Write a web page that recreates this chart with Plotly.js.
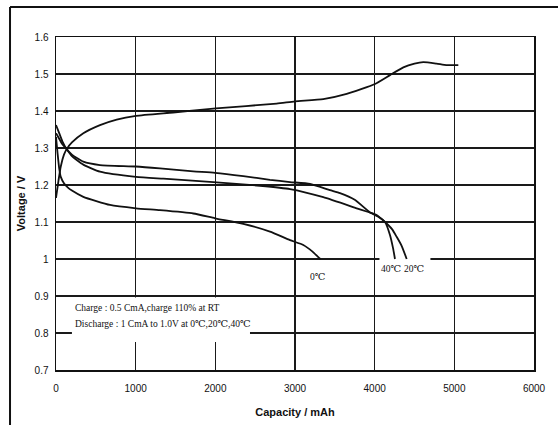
<!DOCTYPE html>
<html>
<head>
<meta charset="utf-8">
<script src="https://cdn.plot.ly/plotly-3.0.1.min.js"></script>
<style>html,body{margin:0;padding:0;background:#fff;}#chart{width:558px;height:425px;}</style>
</head>
<body>
<div id="chart"></div>
<script>
// Charge curve (0.5 CmA, 110%, RT)
const chargeX = [0, 30, 60, 100, 134, 200, 343, 552, 762, 1004, 1470, 2008, 2770, 3000, 3355, 3649, 4004, 4192, 4360, 4500, 4610, 4778, 4900, 5050];
const chargeY = [1.165, 1.21, 1.25, 1.282, 1.297, 1.315, 1.34, 1.362, 1.377, 1.387, 1.396, 1.407, 1.42, 1.426, 1.432, 1.446, 1.473, 1.497, 1.518, 1.528, 1.532, 1.528, 1.524, 1.524];
// Discharge 40°C
const d40X = [0, 40, 80, 134, 200, 343, 552, 1004, 1305, 1724, 1996, 2351, 2686, 2937, 3188, 3439, 3565, 3750, 3941, 4040, 4130, 4192, 4230, 4255];
const d40Y = [1.362, 1.34, 1.318, 1.297, 1.282, 1.263, 1.254, 1.25, 1.245, 1.237, 1.233, 1.224, 1.214, 1.208, 1.203, 1.186, 1.178, 1.16, 1.126, 1.115, 1.10, 1.065, 1.03, 1.0];
// Discharge 20°C
const d20X = [0, 40, 80, 134, 200, 343, 552, 1004, 1347, 1975, 2560, 2937, 3355, 3774, 4025, 4130, 4220, 4276, 4340, 4402];
const d20Y = [1.34, 1.325, 1.31, 1.297, 1.278, 1.255, 1.236, 1.222, 1.217, 1.208, 1.198, 1.189, 1.167, 1.137, 1.119, 1.10, 1.08, 1.06, 1.035, 1.0];
// Discharge 0°C
const d0X = [0, 20, 40, 60, 100, 150, 200, 343, 678, 1004, 1305, 1724, 1996, 2351, 2686, 2937, 3104, 3220, 3293, 3320];
const d0Y = [1.33, 1.285, 1.245, 1.222, 1.205, 1.193, 1.185, 1.168, 1.146, 1.137, 1.132, 1.123, 1.11, 1.095, 1.074, 1.051, 1.038, 1.02, 1.005, 1.0];

const xTicks = [0, 1000, 2000, 3000, 4000, 5000, 6000];
const yTicks = [0.7, 0.8, 0.9, 1.0, 1.1, 1.2, 1.3, 1.4, 1.5, 1.6];
const yTickText = ['0.7', '0.8', '0.9', '1', '1.1', '1.2', '1.3', '1.4', '1.5', '1.6'];
const curveLabels = ['0℃', '40℃', '20℃'];
const noteLines = ['Charge : 0.5 CmA,charge 110% at RT', 'Discharge : 1 CmA to 1.0V at 0℃,20℃,40℃'];

const lineStyle = {color: '#111', width: 1.8, shape: 'spline', smoothing: 0.5};
const traces = [
  {x: chargeX, y: chargeY, mode: 'lines', line: lineStyle, hoverinfo: 'skip'},
  {x: d40X, y: d40Y, mode: 'lines', line: lineStyle, hoverinfo: 'skip'},
  {x: d20X, y: d20Y, mode: 'lines', line: lineStyle, hoverinfo: 'skip'},
  {x: d0X, y: d0Y, mode: 'lines', line: lineStyle, hoverinfo: 'skip'}
];

const tickFont = {family: 'Liberation Sans Narrow, Liberation Sans, Arial, sans-serif', size: 10, color: '#111'};
const serif = {family: 'Liberation Serif, DejaVu Serif, serif', size: 9.5, color: '#111'};

const layout = {
  width: 558, height: 425,
  margin: {l: 56, r: 24, t: 37, b: 55},
  paper_bgcolor: '#fff', plot_bgcolor: '#fff',
  showlegend: false,
  xaxis: {
    range: [0, 6000], tickvals: xTicks, ticktext: xTicks.map(String),
    showgrid: true, gridcolor: '#1a1a1a', gridwidth: 1.6,
    zeroline: false, showline: true, linecolor: '#111', linewidth: 1.5, mirror: true,
    ticks: '', tickfont: tickFont, ticklabelstandoff: 8,
    title: {text: '<b>Capacity / mAh</b>', font: {family: 'Liberation Sans, Arial, sans-serif', size: 11, color: '#111'}, standoff: 16}
  },
  yaxis: {
    range: [0.7, 1.6], tickvals: yTicks, ticktext: yTickText,
    showgrid: true, gridcolor: '#1a1a1a', gridwidth: 1.6,
    zeroline: false, showline: true, linecolor: '#111', linewidth: 1.5, mirror: true,
    ticks: '', tickfont: tickFont, ticklabelstandoff: 4,
    title: {text: '<b>Voltage / V</b>', font: {family: 'Liberation Sans, Arial, sans-serif', size: 11, color: '#111'}, standoff: 6}
  },
  shapes: [
    {type: 'rect', xref: 'x', yref: 'y', x0: 200, x1: 2435, y0: 0.776, y1: 0.896, fillcolor: '#fff', line: {width: 0}, layer: 'between'},
    {type: 'rect', xref: 'x', yref: 'y', x0: 4060, x1: 4700, y0: 0.992, y1: 1.008, fillcolor: '#fff', line: {width: 0}, layer: 'between'},
    {type: 'line', xref: 'paper', yref: 'paper', x0: -0.0962, x1: -0.0962, y0: -0.2, y1: 1.09, line: {color: '#111', width: 2}},
    {type: 'line', xref: 'paper', yref: 'paper', x0: -0.0962, x1: 1.06, y0: 1.09, y1: 1.09, line: {color: '#111', width: 2}}
  ],
  annotations: [
    {x: 3289, y: 0.951, xref: 'x', yref: 'y', text: curveLabels[0], showarrow: false, font: serif},
    {x: 4205, y: 0.973, xref: 'x', yref: 'y', text: curveLabels[1], showarrow: false, font: serif},
    {x: 4494, y: 0.973, xref: 'x', yref: 'y', text: curveLabels[2], showarrow: false, font: serif},
    {x: 210, y: 0.868, xref: 'x', yref: 'y', text: noteLines[0], showarrow: false, xanchor: 'left', font: serif},
    {x: 210, y: 0.825, xref: 'x', yref: 'y', text: noteLines[1], showarrow: false, xanchor: 'left', font: serif}
  ]
};

Plotly.newPlot('chart', traces, layout, {displayModeBar: false, staticPlot: true});
</script>
</body>
</html>
